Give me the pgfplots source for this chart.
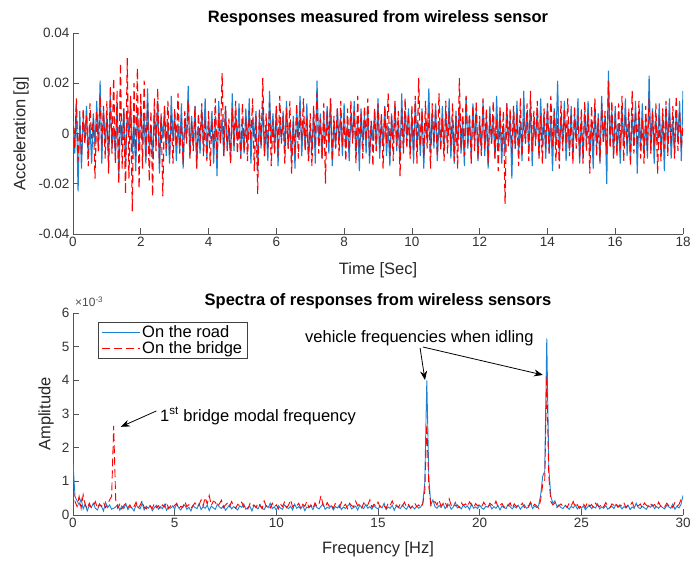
\documentclass[border=0pt]{standalone}
\usepackage{fontspec}
\setmainfont{Liberation Sans}
\usepackage{pgfplots}
\usepackage{pgfplotstable}
\pgfplotsset{compat=1.18}
\usetikzlibrary{arrows.meta}
\definecolor{mblue}{RGB}{30,130,210}
\definecolor{axgray}{RGB}{85,85,85}

% time series, milli-g, dt = 0.05 s
\pgfplotstableread[row sep=\\, header=false]{
5\\-8\\12\\-23\\9\\-14\\6\\-2\\11\\-10\\4\\-12\\8\\-5\\13\\-7\\21\\-12\\10\\-4\\
7\\-11\\15\\-6\\3\\-9\\12\\-18\\5\\-3\\10\\-13\\8\\-1\\14\\-8\\4\\-15\\9\\-6\\
11\\-4\\6\\-12\\18\\-7\\3\\-10\\9\\-5\\13\\-16\\7\\-2\\10\\-9\\5\\-12\\15\\-3\\
8\\-11\\4\\-7\\12\\-14\\6\\-3\\19\\-9\\7\\-5\\11\\-13\\3\\-8\\10\\-6\\14\\-10\\
5\\-2\\9\\-12\\7\\-17\\13\\-4\\6\\-9\\11\\-6\\3\\-11\\16\\-7\\8\\-3\\12\\-10\\
4\\-8\\10\\-5\\14\\-12\\6\\-2\\9\\-15\\7\\-6\\12\\-9\\3\\-11\\17\\-4\\8\\-7\\
11\\-13\\5\\-3\\9\\-8\\13\\-6\\4\\-10\\7\\-14\\10\\-2\\15\\-9\\6\\-5\\12\\-11\\
3\\-7\\9\\-12\\21\\-5\\8\\-10\\6\\-3\\11\\-8\\14\\-13\\5\\-6\\10\\-4\\7\\-9\\
12\\-6\\4\\-11\\8\\-2\\13\\-9\\6\\-15\\10\\-4\\7\\-8\\11\\-12\\5\\-3\\9\\-7\\
14\\-10\\6\\-5\\11\\-9\\3\\-13\\8\\-4\\12\\-7\\5\\-11\\16\\-6\\9\\-2\\10\\-8\\
7\\-12\\13\\-5\\4\\-9\\10\\-14\\6\\-3\\18\\-8\\9\\-6\\12\\-11\\5\\-4\\11\\-7\\
8\\-3\\14\\-10\\6\\-12\\9\\-5\\11\\-8\\4\\-13\\15\\-6\\7\\-9\\12\\-4\\10\\-11\\
5\\-7\\13\\-9\\8\\-14\\11\\-4\\6\\-10\\15\\-6\\9\\-12\\4\\-8\\12\\-5\\7\\-18\\
10\\-6\\13\\-8\\5\\-11\\17\\-4\\9\\-7\\12\\-13\\6\\-3\\10\\-9\\14\\-5\\8\\-10\\
12\\-8\\6\\-15\\10\\-4\\21\\-9\\7\\-5\\13\\-11\\4\\-7\\11\\-10\\8\\-3\\14\\-12\\
6\\-10\\9\\-4\\13\\-8\\5\\-14\\11\\-6\\8\\-12\\15\\-3\\7\\-20\\25\\-5\\9\\-9\\
11\\-7\\4\\-12\\10\\-5\\14\\-9\\6\\-11\\8\\-4\\13\\-16\\9\\-6\\12\\-8\\5\\-10\\
23\\-7\\10\\-12\\6\\-4\\12\\-9\\8\\-15\\11\\-6\\14\\-10\\5\\-8\\9\\-3\\13\\-11\\
17\\}\bluetime

\pgfplotstableread[row sep=\\, header=false]{
8\\-6\\14\\-11\\3\\-9\\10\\-4\\7\\-13\\12\\-2\\6\\-18\\9\\-7\\15\\-5\\11\\-10\\
13\\-16\\19\\-8\\22\\-12\\17\\-20\\28\\-14\\10\\-24\\30\\-18\\15\\-31\\20\\-9\\26\\-22\\
16\\-14\\21\\-10\\12\\-19\\9\\-25\\14\\-7\\18\\-12\\8\\-25\\11\\-6\\13\\-9\\7\\-12\\
10\\-5\\16\\-8\\6\\-12\\9\\-4\\13\\-10\\5\\-7\\11\\-14\\8\\-3\\12\\-9\\6\\-11\\
9\\-13\\5\\-6\\14\\-10\\8\\-4\\24\\-9\\11\\-7\\6\\-12\\10\\-5\\13\\-8\\4\\-10\\
12\\-7\\6\\-11\\9\\-3\\14\\-15\\7\\-24\\10\\-5\\22\\-9\\8\\-6\\12\\-13\\5\\-8\\
11\\-9\\15\\-4\\7\\-12\\10\\-6\\13\\-16\\5\\-8\\12\\-10\\9\\-3\\14\\-7\\6\\-11\\
8\\-13\\11\\-5\\16\\-8\\6\\-10\\12\\-20\\9\\-4\\14\\-11\\7\\-6\\10\\-9\\13\\-5\\
6\\-11\\10\\-7\\13\\-4\\9\\-12\\15\\-6\\8\\-10\\11\\-3\\14\\-9\\5\\-13\\10\\-7\\
12\\-6\\8\\-14\\11\\-4\\16\\-9\\7\\-11\\13\\-5\\9\\-17\\10\\-8\\14\\-6\\8\\-10\\
11\\-7\\15\\-12\\22\\-5\\9\\-10\\13\\-6\\8\\-14\\12\\-4\\10\\-9\\16\\-7\\6\\-11\\
13\\-8\\9\\-5\\12\\-11\\7\\-14\\22\\-6\\10\\-9\\15\\-4\\8\\-12\\11\\-7\\13\\-10\\
7\\-9\\14\\-6\\10\\-12\\8\\-4\\13\\-10\\6\\-15\\11\\-7\\9\\-28\\12\\-5\\10\\-8\\
11\\-6\\8\\-13\\14\\-9\\6\\-4\\12\\-11\\17\\-7\\9\\-5\\13\\-10\\7\\-12\\10\\-6\\
12\\-8\\15\\-5\\9\\-11\\6\\-14\\13\\-7\\10\\-4\\14\\-9\\8\\-12\\11\\-6\\7\\-10\\
10\\-12\\13\\-7\\8\\-16\\11\\-5\\14\\-9\\6\\-11\\12\\-4\\9\\-8\\21\\-6\\13\\-10\\
8\\-9\\12\\-6\\15\\-11\\7\\-4\\10\\-13\\17\\-8\\9\\-5\\13\\-10\\6\\-12\\11\\-7\\
14\\-8\\9\\-5\\12\\-16\\7\\-11\\10\\-6\\13\\-9\\8\\-4\\11\\-10\\15\\-7\\9\\-6\\
4\\}\redtime

% spectra, x 10^-3, df = 0.1 Hz
\pgfplotstableread[row sep=\\, header=false]{
1.55\\0.55\\0.42\\0.30\\0.48\\0.18\\0.33\\0.12\\0.28\\0.22\\
0.35\\0.20\\0.15\\0.30\\0.26\\0.12\\0.38\\0.22\\0.30\\0.17\\
0.20\\0.24\\0.31\\0.14\\0.27\\0.19\\0.33\\0.16\\0.25\\0.21\\
0.12\\0.30\\0.23\\0.18\\0.35\\0.15\\0.26\\0.20\\0.28\\0.13\\
0.22\\0.29\\0.17\\0.25\\0.19\\0.31\\0.14\\0.24\\0.20\\0.27\\
0.18\\0.33\\0.21\\0.15\\0.26\\0.30\\0.17\\0.23\\0.12\\0.28\\
0.22\\0.19\\0.34\\0.16\\0.25\\0.20\\0.29\\0.13\\0.27\\0.21\\
0.17\\0.32\\0.24\\0.19\\0.28\\0.14\\0.22\\0.30\\0.18\\0.25\\
0.20\\0.15\\0.27\\0.23\\0.33\\0.17\\0.21\\0.26\\0.12\\0.29\\
0.24\\0.18\\0.31\\0.20\\0.16\\0.27\\0.22\\0.35\\0.19\\0.25\\
0.14\\0.28\\0.21\\0.17\\0.30\\0.23\\0.19\\0.26\\0.15\\0.32\\
0.20\\0.25\\0.18\\0.29\\0.13\\0.24\\0.21\\0.27\\0.16\\0.31\\
0.22\\0.18\\0.26\\0.34\\0.17\\0.23\\0.20\\0.28\\0.15\\0.25\\
0.21\\0.30\\0.16\\0.24\\0.19\\0.27\\0.33\\0.18\\0.22\\0.26\\
0.15\\0.29\\0.23\\0.19\\0.31\\0.20\\0.25\\0.17\\0.28\\0.22\\
0.18\\0.26\\0.21\\0.35\\0.16\\0.24\\0.20\\0.29\\0.14\\0.27\\
0.23\\0.19\\0.30\\0.22\\0.17\\0.28\\0.21\\0.25\\0.18\\0.26\\
0.20\\0.24\\0.35\\0.95\\4.00\\1.10\\0.30\\0.45\\0.25\\0.20\\
0.28\\0.22\\0.35\\0.19\\0.26\\0.31\\0.17\\0.24\\0.38\\0.21\\
0.25\\0.18\\0.30\\0.22\\0.27\\0.16\\0.33\\0.20\\0.24\\0.19\\
0.29\\0.21\\0.17\\0.26\\0.23\\0.31\\0.18\\0.25\\0.20\\0.28\\
0.15\\0.27\\0.22\\0.19\\0.32\\0.24\\0.18\\0.26\\0.21\\0.29\\
0.17\\0.25\\0.30\\0.20\\0.23\\0.36\\0.19\\0.27\\0.22\\0.28\\
0.60\\1.15\\1.30\\5.25\\1.40\\0.55\\0.35\\0.42\\0.25\\0.30\\
0.22\\0.19\\0.28\\0.24\\0.17\\0.26\\0.21\\0.30\\0.18\\0.25\\
0.20\\0.27\\0.16\\0.23\\0.29\\0.19\\0.25\\0.21\\0.33\\0.18\\
0.24\\0.20\\0.28\\0.17\\0.22\\0.26\\0.19\\0.31\\0.23\\0.27\\
0.18\\0.25\\0.21\\0.29\\0.16\\0.24\\0.20\\0.35\\0.22\\0.19\\
0.26\\0.21\\0.17\\0.28\\0.23\\0.30\\0.19\\0.25\\0.20\\0.27\\
0.22\\0.18\\0.29\\0.24\\0.20\\0.33\\0.17\\0.26\\0.21\\0.31\\
0.58\\}\bluespec

\pgfplotstableread[row sep=\\, header=false]{
0.78\\0.40\\0.25\\0.55\\0.20\\0.60\\0.30\\0.18\\0.35\\0.22\\
0.28\\0.40\\0.20\\0.33\\0.25\\0.38\\0.22\\0.30\\0.45\\0.55\\
2.65\\0.45\\0.20\\0.32\\0.18\\0.28\\0.35\\0.22\\0.30\\0.17\\
0.25\\0.38\\0.20\\0.29\\0.42\\0.23\\0.18\\0.31\\0.26\\0.20\\
0.34\\0.22\\0.28\\0.17\\0.30\\0.24\\0.38\\0.19\\0.27\\0.21\\
0.29\\0.35\\0.18\\0.26\\0.22\\0.40\\0.25\\0.31\\0.20\\0.28\\
0.36\\0.24\\0.30\\0.45\\0.27\\0.52\\0.33\\0.58\\0.29\\0.41\\
0.38\\0.26\\0.33\\0.44\\0.22\\0.30\\0.36\\0.25\\0.40\\0.28\\
0.20\\0.32\\0.27\\0.38\\0.23\\0.29\\0.18\\0.34\\0.25\\0.30\\
0.22\\0.36\\0.28\\0.19\\0.42\\0.26\\0.31\\0.21\\0.35\\0.24\\
0.30\\0.18\\0.33\\0.25\\0.38\\0.22\\0.29\\0.45\\0.24\\0.31\\
0.27\\0.35\\0.20\\0.32\\0.26\\0.40\\0.23\\0.30\\0.19\\0.36\\
0.25\\0.33\\0.58\\0.28\\0.22\\0.37\\0.26\\0.31\\0.20\\0.34\\
0.29\\0.22\\0.38\\0.26\\0.32\\0.19\\0.35\\0.28\\0.24\\0.41\\
0.27\\0.33\\0.21\\0.36\\0.25\\0.30\\0.45\\0.23\\0.32\\0.26\\
0.38\\0.24\\0.31\\0.27\\0.20\\0.35\\0.29\\0.42\\0.25\\0.30\\
0.22\\0.34\\0.27\\0.38\\0.24\\0.31\\0.20\\0.28\\0.36\\0.25\\
0.30\\0.22\\0.33\\0.70\\2.70\\0.85\\0.28\\0.35\\0.40\\0.30\\
0.45\\0.26\\0.33\\0.38\\0.24\\0.48\\0.29\\0.35\\0.27\\0.30\\
0.22\\0.36\\0.28\\0.33\\0.25\\0.39\\0.30\\0.21\\0.34\\0.27\\
0.32\\0.25\\0.38\\0.28\\0.22\\0.35\\0.30\\0.26\\0.41\\0.24\\
0.29\\0.34\\0.22\\0.31\\0.27\\0.36\\0.20\\0.33\\0.25\\0.30\\
0.28\\0.35\\0.22\\0.30\\0.26\\0.38\\0.24\\0.32\\0.27\\0.20\\
0.45\\0.90\\1.05\\4.10\\1.15\\0.40\\0.30\\0.36\\0.22\\0.28\\
0.33\\0.25\\0.30\\0.22\\0.35\\0.27\\0.40\\0.24\\0.31\\0.20\\
0.29\\0.34\\0.23\\0.38\\0.26\\0.31\\0.22\\0.35\\0.28\\0.25\\
0.32\\0.24\\0.37\\0.27\\0.21\\0.33\\0.29\\0.36\\0.24\\0.30\\
0.26\\0.35\\0.22\\0.31\\0.28\\0.38\\0.23\\0.30\\0.27\\0.33\\
0.21\\0.36\\0.29\\0.25\\0.34\\0.27\\0.31\\0.22\\0.38\\0.26\\
0.30\\0.24\\0.35\\0.28\\0.32\\0.22\\0.37\\0.26\\0.31\\0.45\\
0.40\\}\redspec

\tikzset{
  labfont/.style={font=\fontsize{16.5}{19}\selectfont, text=black!85},
  titfont/.style={font=\fontsize{16.5}{19}\selectfont\bfseries},
}
\pgfplotsset{
  mystyle/.style={
    scale only axis, width=610pt, height=201pt,
    axis lines=left,
    axis line style={-, draw=axgray, line width=0.7pt},
    tick style={draw=axgray, line width=0.7pt},
    tick align=inside, major tick length=6pt,
    ticklabel style={font=\fontsize{13.5}{15}\selectfont, text=black!80},
    /pgf/number format/assume math mode=true,
    scaled ticks=false,
    legend image code/.code={\draw[##1] (0pt,0pt) -- (38pt,0pt);},
  },
  bluel/.style={color=mblue, line width=0.9pt},
  redl/.style={color=red, line width=0.9pt, dash pattern=on 8pt off 4pt},
}

\begin{document}
\begin{tikzpicture}
\useasboundingbox (0,0) rectangle (695pt,566pt);
% top panel
\begin{axis}[mystyle,
  at={(73pt,332pt)}, anchor=south west,
  xmin=0, xmax=18, ymin=-0.04, ymax=0.04,
  xtick={0,2,...,18},
  ytick={-0.04,-0.02,0,0.02,0.04},
  yticklabels={-0.04,-0.02,0,0.02,0.04},
  xlabel={Time [Sec]}, ylabel={Acceleration [g]},
  title={Responses measured from wireless sensor},
  every axis title/.style={at={(axis description cs:0.5,1.075)}, anchor=center, titfont},
  every axis x label/.style={at={(axis description cs:0.5,-0.18)}, anchor=center, labfont},
  every axis y label/.style={at={(axis description cs:-0.085,0.5)}, anchor=center, rotate=90, labfont},
]
\addplot[bluel, line width=1.1pt] table[x index=0, y index=0, x expr=\coordindex*0.05, y expr=\thisrowno{0}/1000] {\bluetime};
\addplot[redl, line width=1.1pt] table[x index=0, y index=0, x expr=\coordindex*0.05, y expr=\thisrowno{0}/1000] {\redtime};
\end{axis}
% bottom panel
\begin{axis}[mystyle, name=bot,
  at={(73pt,51pt)}, anchor=south west, height=202pt,
  xmin=0, xmax=30, ymin=0, ymax=6,
  xtick={0,5,...,30}, ytick={0,1,...,6},
  xlabel={Frequency [Hz]}, ylabel={Amplitude},
  title={Spectra of responses from wireless sensors},
  every axis title/.style={at={(axis description cs:0.5,1.06)}, anchor=center, titfont},
  every axis x label/.style={at={(axis description cs:0.5,-0.168)}, anchor=center, labfont},
  every axis y label/.style={at={(axis description cs:-0.044,0.5)}, anchor=center, rotate=90, labfont},
  legend style={at={(axis description cs:0.041,0.955)}, anchor=north west,
    draw=black!75, line width=0.6pt, font=\fontsize{16.5}{19}\selectfont,
    inner xsep=3pt, inner ysep=1pt, row sep=-1pt},
  legend cell align=left,
]
\addplot[bluel] table[x index=0, y index=0, x expr=\coordindex*0.1] {\bluespec};
\addlegendentry{On the road}
\addplot[redl] table[x index=0, y index=0, x expr=\coordindex*0.1] {\redspec};
\addlegendentry{On the bridge}
\node[anchor=base west, inner sep=0pt, font=\fontsize{16.5}{19}\selectfont] at (axis cs:4.28,2.79) {1\textsuperscript{st} bridge modal frequency};
\draw[-{Stealth[length=9pt,width=7pt]}, line width=0.8pt] (axis cs:4.1,3.09) -- (axis cs:2.35,2.62);
\node[anchor=base west, inner sep=0pt, font=\fontsize{16.5}{19}\selectfont] at (axis cs:11.41,5.11) {vehicle frequencies when idling};
\draw[-{Stealth[length=9pt,width=7pt]}, line width=0.8pt] (axis cs:17.07,4.96) -- (axis cs:17.31,4.01);
\draw[-{Stealth[length=9pt,width=7pt]}, line width=0.8pt] (axis cs:17.21,4.99) -- (axis cs:23.11,4.16);
\end{axis}
\node[anchor=west, inner sep=0pt, text=black!70, font=\fontsize{12}{14}\selectfont] at ([xshift=2pt,yshift=11pt]bot.north west) {×10\textsuperscript{-3}};
\end{tikzpicture}
\end{document}
